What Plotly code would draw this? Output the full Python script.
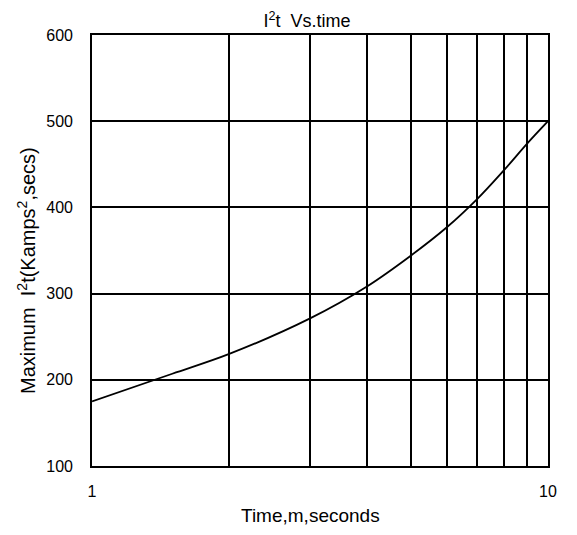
import plotly.graph_objects as go

time_ms = [1, 1.5, 2, 3, 4, 5, 6, 7, 8, 9, 10]
i2t_values = [175, 207, 230, 271, 308, 344, 377, 410, 443, 474, 500]
x_tick_vals = [1, 10]
x_tick_text = ["1", "10"]
x_grid_vals = [2, 3, 4, 5, 6, 7, 8, 9]
y_tick_vals = [100, 200, 300, 400, 500, 600]

FONT = "Liberation Sans, Arial, sans-serif"
PW = 561 - 84 - 14  # plot width in px

fig = go.Figure()
fig.add_trace(go.Scatter(x=time_ms, y=i2t_values, mode="lines",
                         line=dict(color="black", width=1.8, shape="spline"),
                         showlegend=False))

fig.update_layout(
    width=561, height=519,
    margin=dict(l=84, r=14, t=27, b=61),
    paper_bgcolor="white", plot_bgcolor="white",
    font=dict(family=FONT, size=16, color="black"),
    title=dict(text="I<sup>2</sup>t  Vs.time", x=299 / 561, xref="container",
               xanchor="center", y=1 - 13 / 519, yref="container",
               yanchor="middle", font=dict(size=18)),
    xaxis=dict(type="log", range=[0, 1], tickvals=x_tick_vals, ticktext=x_tick_text,
               showgrid=True, gridcolor="black", gridwidth=1.6,
               minor=dict(tickvals=x_grid_vals, showgrid=True, gridcolor="black",
                          gridwidth=1.6, ticks=""),
               showline=True, linecolor="black", linewidth=1.6, mirror=True,
               ticks="", zeroline=False, ticklabelstandoff=10),
    yaxis=dict(range=[100, 600], tickvals=y_tick_vals,
               showgrid=True, gridcolor="black", gridwidth=1.6,
               showline=True, linecolor="black", linewidth=1.6, mirror=True,
               ticks="", zeroline=False, ticklabelstandoff=14),
    annotations=[
        dict(text="Time,m,seconds", xref="paper", yref="paper",
             x=(305.5 - 84) / PW, y=-50 / 431, xanchor="center", yanchor="middle",
             showarrow=False, font=dict(size=19)),
        dict(text="Maximum  I<sup>2</sup>t(Kamps<sup>2</sup>,secs)", xref="paper", yref="paper",
             x=(17 - 84) / PW, y=195 / 431, xanchor="center", yanchor="middle",
             textangle=-90, showarrow=False, font=dict(size=20)),
    ],
)

fig.write_html("out.html")
